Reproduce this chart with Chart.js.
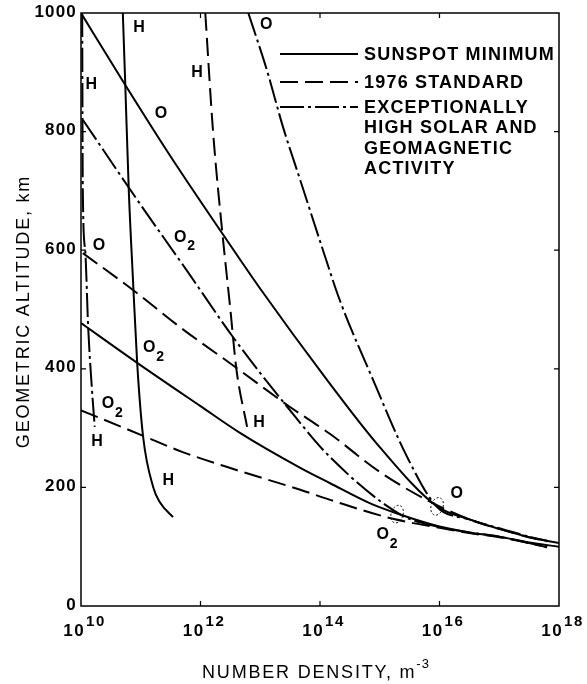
<!DOCTYPE html>
<html>
<head>
<meta charset="utf-8">
<script src="https://cdn.jsdelivr.net/npm/chart.js@4.4.0/dist/chart.umd.min.js"></script>
<style>
  body { margin: 0; background: #fff; }
  canvas { display: block; }
</style>
</head>
<body>
<canvas id="myChart" width="587" height="684"></canvas>
<script>
// points are [log10 of number density (m^-3), geometric altitude (km)]
let hMinimum = [[10.70, 1000], [10.74, 882], [10.80, 700], [10.87, 550], [10.94, 410], [11.04, 285], [11.21, 200], [11.32, 175], [11.54, 150]];
let oMinimum = [[10.0, 1000], [10.72, 882], [11.5, 758], [12.38, 626], [13.0, 535], [14.12, 381], [15.0, 268], [15.96, 168], [16.5, 146], [17.0, 130], [17.5, 116], [18.0, 106]];
let o2Minimum = [[10.0, 477], [10.94, 410], [12.0, 337], [12.66, 292], [13.67, 233], [14.17, 207], [14.84, 173], [15.29, 156], [16.0, 134], [16.5, 124], [17.0, 117], [17.5, 107], [18.0, 100]];

let hStandard = [[12.08, 1000], [12.21, 800], [12.37, 625], [12.50, 500], [12.60, 400], [12.78, 302]];
let oStandard = [[10.03, 595], [10.87, 533], [11.66, 470], [12.61, 401], [13.45, 339], [14.17, 290], [15.0, 226], [15.84, 176], [16.5, 146], [17.0, 130], [17.5, 116], [17.8, 109]];
let o2Standard = [[10.0, 330], [11.04, 287], [11.69, 260], [12.55, 231], [13.67, 196], [14.17, 179], [15.22, 147], [16.0, 132], [16.5, 123], [17.0, 116], [17.5, 106], [17.8, 99]];

let hHigh = [[10.02, 1000], [10.03, 700], [10.07, 600], [10.12, 470], [10.18, 370], [10.23, 302]];
let oHigh = [[12.80, 1000], [13.11, 904], [13.38, 808], [13.67, 718], [14.05, 600], [14.33, 516], [14.89, 381], [15.46, 251], [15.96, 167], [16.5, 146], [17.0, 131], [17.5, 117], [17.8, 110]];
let o2High = [[10.03, 820], [10.94, 685], [11.79, 563], [12.54, 454], [13.45, 336], [14.17, 251], [15.37, 153], [16.0, 133], [16.5, 124], [17.0, 117], [17.5, 106], [17.8, 99]];

let xTickExp = [10, 12, 14, 16, 18];
let yTicks = [0, 200, 400, 600, 800, 1000];

let legendNames = ['SUNSPOT MINIMUM', '1976 STANDARD', 'EXCEPTIONALLY\nHIGH SOLAR AND\nGEOMAGNETIC\nACTIVITY'];

// species labels written on the curves
let curveLabels = ['H', 'H', 'O', 'H', 'O', 'O', 'O2', 'O2', 'O2', 'H', 'H', 'H', 'O', 'O2'];
let labelLogN = [10.97, 10.17, 11.34, 11.94, 13.10, 10.30, 11.66, 11.14, 10.45, 10.27, 12.98, 11.46, 16.29, 15.05];
let labelAlt = [975, 880, 830, 900, 981, 607, 622, 435, 341, 278, 310, 211, 189, 120];

// little dotted rings where the curves meet
let ringLogN = [15.29, 15.96];
let ringAlt = [155, 168];

const fontFamily = '"Liberation Sans", Arial, sans-serif';
const solid = [];
const dashed = [18, 7];
const dashDot = [24, 4, 3, 4];
const lineStyles = [solid, dashed, dashDot];

function toPoints(arr) {
    return arr.map(p => ({ x: Math.pow(10, p[0]), y: p[1] }));
}

function makeSet(arr, dash) {
    return {
        data: toPoints(arr),
        borderColor: '#000',
        borderWidth: 2,
        borderDash: dash,
        pointRadius: 0,
        fill: false,
        cubicInterpolationMode: 'monotone'
    };
}

//draw frame, ticks, labels, legend on top of the chart
const extras = {
    id: 'extras',
    afterDraw(chart) {
        const ctx = chart.ctx;
        const area = chart.chartArea;
        const xs = chart.scales.x;
        const ys = chart.scales.y;
        ctx.save();
        ctx.strokeStyle = '#000';
        ctx.fillStyle = '#000';
        ctx.lineWidth = 1.5;
        ctx.setLineDash([]);
        ctx.strokeRect(area.left, area.top, area.right - area.left, area.bottom - area.top);

        // inward ticks
        ctx.lineWidth = 1.2;
        ctx.beginPath();
        yTicks.slice(1, -1).forEach(v => {
            let y = ys.getPixelForValue(v);
            ctx.moveTo(area.left, y); ctx.lineTo(area.left + 5, y);
            ctx.moveTo(area.right, y); ctx.lineTo(area.right - 5, y);
        });
        xTickExp.slice(1, -1).forEach(e => {
            let x = xs.getPixelForValue(Math.pow(10, e));
            ctx.moveTo(x, area.bottom); ctx.lineTo(x, area.bottom - 5);
            ctx.moveTo(x, area.top); ctx.lineTo(x, area.top + 5);
        });
        ctx.stroke();

        // y tick labels
        ctx.font = 'bold 17px ' + fontFamily;
        ctx.letterSpacing = '1.2px';
        ctx.textAlign = 'right';
        ctx.textBaseline = 'middle';
        yTicks.forEach(v => {
            ctx.fillText(String(v), area.left - 4, ys.getPixelForValue(v) - 1);
        });

        // x tick labels 10^n
        ctx.textAlign = 'left';
        ctx.textBaseline = 'alphabetic';
        xTickExp.forEach(e => {
            let x = xs.getPixelForValue(Math.pow(10, e));
            ctx.font = 'bold 17px ' + fontFamily;
            ctx.letterSpacing = '1.5px';
            let w1 = ctx.measureText('10').width;
            ctx.font = 'bold 15px ' + fontFamily;
            let w2 = ctx.measureText(String(e)).width;
            let start = x - (w1 + w2) / 2 + 3;
            ctx.font = 'bold 17px ' + fontFamily;
            ctx.fillText('10', start, area.bottom + 30);
            ctx.font = 'bold 15px ' + fontFamily;
            ctx.fillText(String(e), start + w1 + 1, area.bottom + 20);
        });

        // axis titles
        ctx.font = '18px ' + fontFamily;
        ctx.letterSpacing = '1.8px';
        ctx.textAlign = 'left';
        let t1 = 'NUMBER DENSITY, m';
        let tw = ctx.measureText(t1).width;
        ctx.font = '13px ' + fontFamily;
        ctx.letterSpacing = '1px';
        let sw = ctx.measureText('-3').width;
        let cx = (area.left + area.right) / 2 - 4;
        let sx = cx - (tw + sw) / 2;
        ctx.font = '18px ' + fontFamily;
        ctx.letterSpacing = '1.8px';
        ctx.fillText(t1, sx, 678);
        ctx.font = '13px ' + fontFamily;
        ctx.letterSpacing = '1px';
        ctx.fillText('-3', sx + tw, 668);

        ctx.save();
        ctx.translate(29, (area.top + area.bottom) / 2 + 2);
        ctx.rotate(-Math.PI / 2);
        ctx.font = '18px ' + fontFamily;
        ctx.letterSpacing = '1.8px';
        ctx.textAlign = 'center';
        ctx.fillText('GEOMETRIC ALTITUDE, km', 0, 0);
        ctx.restore();

        // species labels on curves
        ctx.letterSpacing = '0px';
        ctx.textAlign = 'center';
        ctx.textBaseline = 'middle';
        curveLabels.forEach((lab, i) => {
            let x = xs.getPixelForValue(Math.pow(10, labelLogN[i]));
            let y = ys.getPixelForValue(labelAlt[i]);
            ctx.font = 'bold 16px ' + fontFamily;
            ctx.fillText(lab.charAt(0), x, y);
            if (lab.length > 1) {
                ctx.font = 'bold 14px ' + fontFamily;
                ctx.fillText(lab.slice(1), x + 11, y + 9);
            }
        });

        // dotted rings
        ctx.lineWidth = 1;
        ctx.setLineDash([2, 2]);
        ringLogN.forEach((v, i) => {
            let x = xs.getPixelForValue(Math.pow(10, v));
            let y = ys.getPixelForValue(ringAlt[i]);
            ctx.beginPath();
            ctx.ellipse(x, y, 6, 9, 0.3, 0, Math.PI * 2);
            ctx.stroke();
        });

        // legend
        let rowY = [54, 82, 107];
        ctx.lineWidth = 2;
        ctx.font = 'bold 18px ' + fontFamily;
        ctx.letterSpacing = '1.2px';
        ctx.textAlign = 'left';
        ctx.textBaseline = 'middle';
        legendNames.forEach((name, i) => {
            ctx.setLineDash(lineStyles[i]);
            ctx.beginPath();
            ctx.moveTo(280, rowY[i]);
            ctx.lineTo(358, rowY[i]);
            ctx.stroke();
            name.split('\n').forEach((line, j) => {
                ctx.fillText(line, 364, rowY[i] + 1 + j * 20.5);
            });
        });
        ctx.restore();
    }
};

const ctx = document.getElementById('myChart');

let chart = new Chart(ctx, {
    type: 'line',
    data: {
        datasets: [
            makeSet(hMinimum, solid),
            makeSet(oMinimum, solid),
            makeSet(o2Minimum, solid),
            makeSet(hStandard, dashed),
            makeSet(oStandard, dashed),
            makeSet(o2Standard, dashed),
            makeSet(hHigh, dashDot),
            makeSet(oHigh, dashDot),
            makeSet(o2High, dashDot)
        ]
    },
    options: {
        responsive: false,
        animation: false,
        layout: {
            padding: { top: 13, right: 28, left: 0, bottom: 0 }
        },
        plugins: {
            legend: { display: false },
            tooltip: { enabled: false }
        },
        scales: {
            x: {
                type: 'logarithmic',
                min: 1e10,
                max: 1e18,
                ticks: { display: false },
                grid: { display: false },
                border: { display: false },
                afterFit: s => { s.height = 78; }
            },
            y: {
                min: 0,
                max: 1000,
                ticks: { display: false },
                grid: { display: false },
                border: { display: false },
                afterFit: s => { s.width = 81; }
            }
        }
    },
    plugins: [extras]
});
</script>
</body>
</html>
